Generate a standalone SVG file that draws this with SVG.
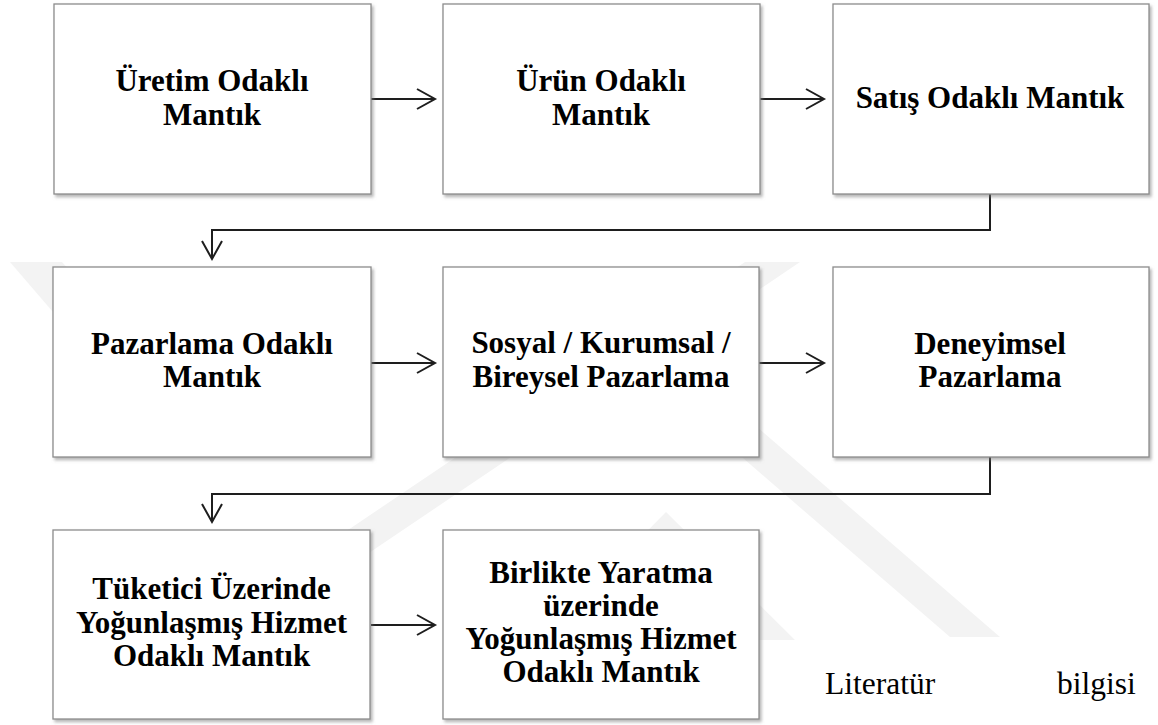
<svg xmlns="http://www.w3.org/2000/svg" width="1158" height="725" viewBox="0 0 1158 725">
<defs>
<style>
.box{fill:#fff;stroke:#8c8c8c;stroke-width:1.3;filter:url(#sh)}
.t{font-family:"Liberation Serif","Times New Roman",serif;font-weight:bold;font-size:31px;fill:#000;text-anchor:middle}
.body{font-family:"Liberation Serif","Times New Roman",serif;font-size:31.5px;fill:#000}
.c{fill:none;stroke:#1e1e1e;stroke-width:2}
.wm{fill:#f3f3f3}
</style>
<filter id="sh" x="-5%" y="-5%" width="115%" height="115%">
<feDropShadow dx="2" dy="2.5" stdDeviation="1.6" flood-color="#7a7a7a" flood-opacity="0.55"/>
</filter>
<marker id="ah" markerUnits="userSpaceOnUse" markerWidth="24" markerHeight="26" refX="20" refY="12" orient="auto">
<path d="M2,2 L20,12 L2,22" fill="none" stroke="#1e1e1e" stroke-width="2"/>
</marker>
</defs>
<rect width="1158" height="725" fill="#fff"/>
<g id="watermark">
<polygon class="wm" points="10,262 62,262 215,440 163,440"/>
<polygon class="wm" points="745,262 800,262 240,640 185,640"/>
<polygon class="wm" points="560,300 610,300 1000,637 950,637"/>
<polygon class="wm" points="666,512 795,640 745,640 666,562 590,640 540,640"/>
</g>
<g id="connectors">
<line class="c" x1="371" y1="99" x2="435" y2="99" marker-end="url(#ah)"/>
<line class="c" x1="760" y1="99" x2="824" y2="99" marker-end="url(#ah)"/>
<polyline class="c" points="990,194 990,230 212,230 212,259" marker-end="url(#ah)"/>
<line class="c" x1="371" y1="363" x2="435" y2="363" marker-end="url(#ah)"/>
<line class="c" x1="759" y1="363" x2="824" y2="363" marker-end="url(#ah)"/>
<polyline class="c" points="990,457 990,494 212,494 212,522" marker-end="url(#ah)"/>
<line class="c" x1="371" y1="625" x2="435" y2="625" marker-end="url(#ah)"/>
</g>
<g id="n1">
<rect class="box" x="54" y="4" width="317" height="190"/>
<text class="t"><tspan x="212" y="91">Üretim Odaklı</tspan><tspan x="212" y="125">Mantık</tspan></text>
</g>
<g id="n2">
<rect class="box" x="443" y="4" width="317" height="190"/>
<text class="t"><tspan x="601" y="91">Ürün Odaklı</tspan><tspan x="601" y="125">Mantık</tspan></text>
</g>
<g id="n3">
<rect class="box" x="833" y="4" width="316" height="190"/>
<text class="t"><tspan x="990" y="108">Satış Odaklı Mantık</tspan></text>
</g>
<g id="n4">
<rect class="box" x="53" y="267" width="318" height="190"/>
<text class="t"><tspan x="212" y="354">Pazarlama Odaklı</tspan><tspan x="212" y="387">Mantık</tspan></text>
</g>
<g id="n5">
<rect class="box" x="443" y="267" width="316" height="190"/>
<text class="t"><tspan x="601" y="353">Sosyal / Kurumsal /</tspan><tspan x="601" y="387">Bireysel Pazarlama</tspan></text>
</g>
<g id="n6">
<rect class="box" x="833" y="267" width="316" height="190"/>
<text class="t"><tspan x="990" y="354">Deneyimsel</tspan><tspan x="990" y="387">Pazarlama</tspan></text>
</g>
<g id="n7">
<rect class="box" x="53" y="530" width="317" height="189"/>
<text class="t"><tspan x="211.5" y="599">Tüketici Üzerinde</tspan><tspan x="211.5" y="633">Yoğunlaşmış Hizmet</tspan><tspan x="211.5" y="666">Odaklı Mantık</tspan></text>
</g>
<g id="n8">
<rect class="box" x="443" y="530" width="316" height="189"/>
<text class="t"><tspan x="601" y="583">Birlikte Yaratma</tspan><tspan x="601" y="616">üzerinde</tspan><tspan x="601" y="649">Yoğunlaşmış Hizmet</tspan><tspan x="601" y="682">Odaklı Mantık</tspan></text>
</g>
<g id="caption">
<text class="body"><tspan x="825" y="694">Literatür</tspan><tspan x="1057" y="694">bilgisi</tspan></text>
</g>
</svg>
